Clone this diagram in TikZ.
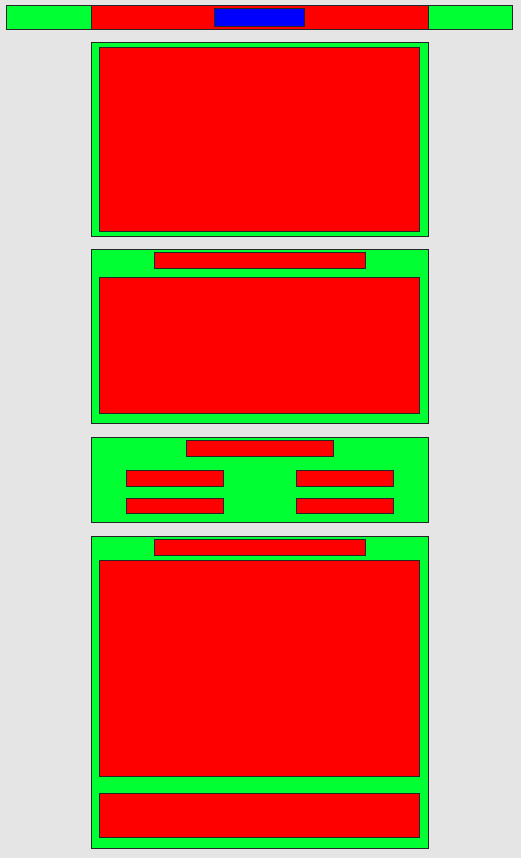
\documentclass[tikz,border=0pt]{standalone}
\definecolor{bg}{RGB}{229,229,229}
\definecolor{grn}{RGB}{0,255,51}
\definecolor{rd}{RGB}{255,0,0}
\definecolor{bl}{RGB}{0,0,255}
\begin{document}
\begin{tikzpicture}[x=1pt,y=-1pt,
  gbox/.style={draw=black!85,line width=1pt,fill=grn},
  rbox/.style={draw=black!85,line width=1pt,fill=rd},
  bbox/.style={draw=black!85,line width=1pt,fill=bl}]
\fill[bg] (0,0) rectangle (521,858);
\useasboundingbox (0,0) rectangle (521,858);
% top bar
\path[gbox] (6.5,5.5) rectangle (91,30) coordinate (tl);
\path[rbox] (91,5.5) rectangle (428,30);
\path[gbox] (428,5.5) rectangle (512.5,30);
\path[bbox] (214.5,8.5) rectangle (304.5,26.5);
% box 1
\path[gbox] (91.5,43) rectangle (428,236.5);
\path[rbox] (99.5,47.5) rectangle (419.5,232);
% box 2
\path[gbox] (91.5,250) rectangle (428,423.5);
\path[rbox] (154.5,253) rectangle (365,268.5);
\path[rbox] (99.5,277) rectangle (419.5,413.5);
% box 3
\path[gbox] (91.5,437) rectangle (428,522.5);
\path[rbox] (186,440.5) rectangle (333,456);
\path[rbox] (126,470.5) rectangle (223,486.5);
\path[rbox] (296,470.5) rectangle (393,486.5);
\path[rbox] (126,498) rectangle (223,513.5);
\path[rbox] (296,498) rectangle (393,513.5);
% box 4
\path[gbox] (91.5,536.5) rectangle (428,848);
\path[rbox] (154.5,539.5) rectangle (365,555);
\path[rbox] (99.5,560.5) rectangle (419.5,776.5);
\path[rbox] (99.5,793.5) rectangle (419.5,837.5);
\end{tikzpicture}
\end{document}
